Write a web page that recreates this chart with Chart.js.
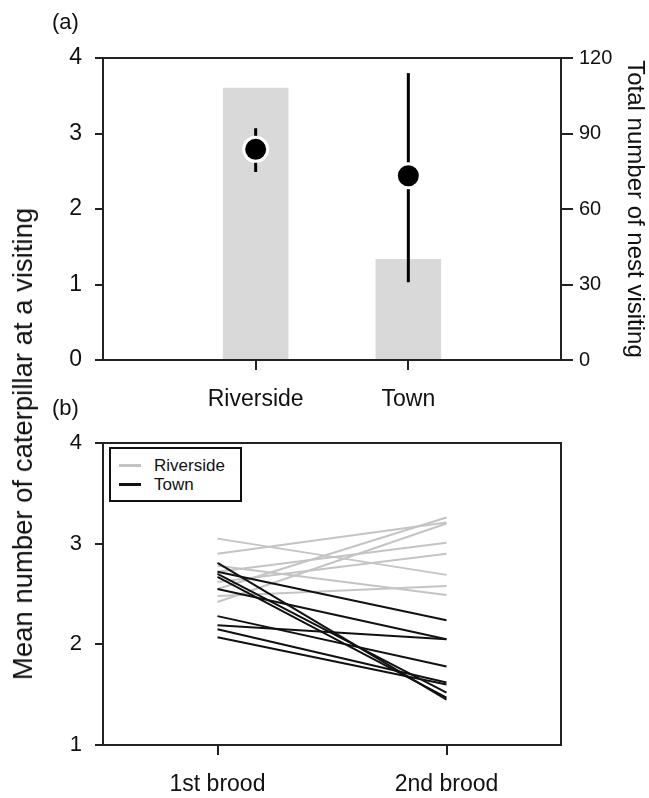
<!DOCTYPE html>
<html>
<head>
<meta charset="utf-8">
<script src="https://cdn.jsdelivr.net/npm/chart.js@4.4.1/dist/chart.umd.min.js"></script>
<style>
  html, body { margin: 0; padding: 0; background: #fff; }
  body { width: 649px; height: 798px; position: relative; overflow: hidden;
         font-family: "Liberation Sans", Arial, sans-serif; color: #111; }
  #wa { position: absolute; left: 0; top: 0; width: 649px; height: 415px; }
  #wb { position: absolute; left: 0; top: 415px; width: 649px; height: 383px; }
  .lbl { position: absolute; font-size: 22px; line-height: 22px; white-space: nowrap; }
  #ytitle { position: absolute; left: 23px; top: 444px; font-size: 27.5px; line-height: 30px;
            white-space: nowrap; transform: translate(-50%, -50%) rotate(-90deg); }
  #legend { position: absolute; left: 109px; top: 447px; width: 129px; height: 51px;
            border: 2px solid #111; background: #fff; }
  .li { position: absolute; left: 8px; height: 18px; font-size: 17px; line-height: 18px; }
  .li span.sw { display: inline-block; width: 22px; height: 3px; vertical-align: middle; margin-right: 13px; position: relative; top: -1px; }
</style>
</head>
<body>
<div id="wa"><canvas id="ca"></canvas></div>
<div id="wb"><canvas id="cb"></canvas></div>
<div class="lbl" style="left:52px; top:11px;">(a)</div>
<div class="lbl" style="left:52px; top:397px;">(b)</div>
<div id="ytitle">Mean number of caterpillar at a visiting</div>
<div id="legend">
  <div class="li" style="top:8px;"><span class="sw" style="background:#c4c4c4"></span>Riverside</div>
  <div class="li" style="top:27px;"><span class="sw" style="background:#111"></span>Town</div>
</div>
<script>
// ---------- Data: panel (a) ----------
const sites = ["Riverside", "Town"];
const meanCaterpillar = [2.79, 2.44];
const errLow = [2.49, 1.03];
const errHigh = [3.07, 3.80];
const totalVisits = [108, 40];
const leftTicksA = [0, 1, 2, 3, 4];
const rightTicksA = [0, 30, 60, 90, 120];

// ---------- Data: panel (b) ----------
const broods = ["1st brood", "2nd brood"];
const riverside1st = [3.05, 2.90, 2.55, 2.42, 2.72, 2.48, 2.78, 2.62];
const riverside2nd = [2.69, 3.21, 3.26, 3.20, 3.01, 2.58, 2.49, 2.90];
const town1st = [2.81, 2.72, 2.70, 2.67, 2.55, 2.28, 2.19, 2.15, 2.07];
const town2nd = [1.45, 2.24, 1.52, 1.47, 2.05, 1.78, 2.05, 1.62, 1.60];
const ticksB = [1, 2, 3, 4];

const AXIS = '#222';
const FONT = "'Liberation Sans', Arial, sans-serif";

const frame = {
  id: 'frame',
  afterDraw(chart) {
    const a = chart.chartArea, c = chart.ctx;
    c.save();
    c.strokeStyle = AXIS; c.lineWidth = 2;
    c.strokeRect(a.left, a.top, a.right - a.left, a.bottom - a.top);
    c.restore();
  }
};

const errorBars = {
  id: 'errorBars',
  afterDatasetDraw(chart, args) {
    if (args.meta.type !== 'bar') return;
    const xs = chart.scales.x, ys = chart.scales.y, c = chart.ctx;
    c.save();
    c.strokeStyle = '#000'; c.lineWidth = 3;
    sites.forEach((s, i) => {
      const x = xs.getPixelForValue(i);
      c.beginPath();
      c.moveTo(x, ys.getPixelForValue(errLow[i]));
      c.lineTo(x, ys.getPixelForValue(errHigh[i]));
      c.stroke();
    });
    c.restore();
  }
};

Chart.defaults.font.family = FONT;
Chart.defaults.color = '#111';

new Chart(document.getElementById('ca'), {
  type: 'bar',
  data: {
    datasets: [
      {
        type: 'line',
        data: sites.map((s, i) => ({ x: i, y: meanCaterpillar[i] })),
        yAxisID: 'y',
        showLine: false,
        pointRadius: 12,
        pointHoverRadius: 12,
        pointBackgroundColor: '#000',
        pointBorderColor: '#fff',
        pointBorderWidth: 3,
        order: 0
      },
      {
        type: 'bar',
        data: sites.map((s, i) => ({ x: i, y: totalVisits[i] })),
        yAxisID: 'y2',
        backgroundColor: '#d9d9d9',
        barThickness: 65,
        order: 1
      }
    ]
  },
  options: {
    responsive: true, maintainAspectRatio: false, animation: false,
    layout: { padding: { top: 58, left: 0, right: 0, bottom: 0 } },
    plugins: { legend: { display: false }, tooltip: { enabled: false } },
    scales: {
      x: {
        type: 'linear', position: 'bottom', min: -1, max: 2, offset: false,
        afterBuildTicks: (s) => { s.ticks = sites.map((n, i) => ({ value: i })); },
        afterFit: (s) => { s.height = 55; },
        ticks: { callback: (v) => sites[v], font: { size: 23 }, color: '#111', padding: 16, maxRotation: 0 },
        grid: { offset: false, drawOnChartArea: false, tickLength: 10, color: AXIS, lineWidth: 2 },
        border: { color: AXIS, width: 2 }
      },
      y: {
        position: 'left', min: 0, max: 4,
        afterBuildTicks: (s) => { s.ticks = leftTicksA.map(v => ({ value: v })); },
        afterFit: (s) => { s.width = 103; },
        ticks: { font: { size: 23 }, color: '#111', padding: 13 },
        grid: { drawOnChartArea: false, tickLength: 8, color: AXIS, lineWidth: 2 },
        border: { color: AXIS, width: 2 }
      },
      y2: {
        position: 'right', min: 0, max: 120,
        afterBuildTicks: (s) => { s.ticks = rightTicksA.map(v => ({ value: v })); },
        afterFit: (s) => { s.width = 88; },
        ticks: { font: { size: 20 }, color: '#111', padding: 6 },
        grid: { drawOnChartArea: false, tickLength: 12, color: AXIS, lineWidth: 2 },
        border: { color: AXIS, width: 2 },
        title: { display: true, text: 'Total number of nest visiting', font: { size: 24 }, color: '#111', padding: 0 }
      }
    }
  },
  plugins: [errorBars, frame]
});

const datasetsB = [];
town1st.forEach((v, i) => datasetsB.push({
  data: [{ x: 0, y: v }, { x: 1, y: town2nd[i] }],
  borderColor: '#111', borderWidth: 2, pointRadius: 0, order: 0
}));
riverside1st.forEach((v, i) => datasetsB.push({
  data: [{ x: 0, y: v }, { x: 1, y: riverside2nd[i] }],
  borderColor: '#c4c4c4', borderWidth: 2, pointRadius: 0, order: 1
}));

new Chart(document.getElementById('cb'), {
  type: 'line',
  data: { datasets: datasetsB },
  options: {
    responsive: true, maintainAspectRatio: false, animation: false,
    layout: { padding: { top: 28, left: 0, right: 88, bottom: 0 } },
    plugins: { legend: { display: false }, tooltip: { enabled: false } },
    scales: {
      x: {
        type: 'linear', position: 'bottom', min: -0.5, max: 1.5,
        afterBuildTicks: (s) => { s.ticks = broods.map((n, i) => ({ value: i })); },
        afterFit: (s) => { s.height = 53; },
        ticks: { callback: (v) => broods[v], font: { size: 23 }, color: '#111', padding: 16, maxRotation: 0 },
        grid: { drawOnChartArea: false, tickLength: 10, color: AXIS, lineWidth: 2 },
        border: { color: AXIS, width: 2 }
      },
      y: {
        position: 'left', min: 1, max: 4,
        afterBuildTicks: (s) => { s.ticks = ticksB.map(v => ({ value: v })); },
        afterFit: (s) => { s.width = 103; },
        ticks: { font: { size: 22 }, color: '#111', padding: 13 },
        grid: { drawOnChartArea: false, tickLength: 8, color: AXIS, lineWidth: 2 },
        border: { color: AXIS, width: 2 }
      }
    }
  },
  plugins: [frame]
});
</script>
</body>
</html>
